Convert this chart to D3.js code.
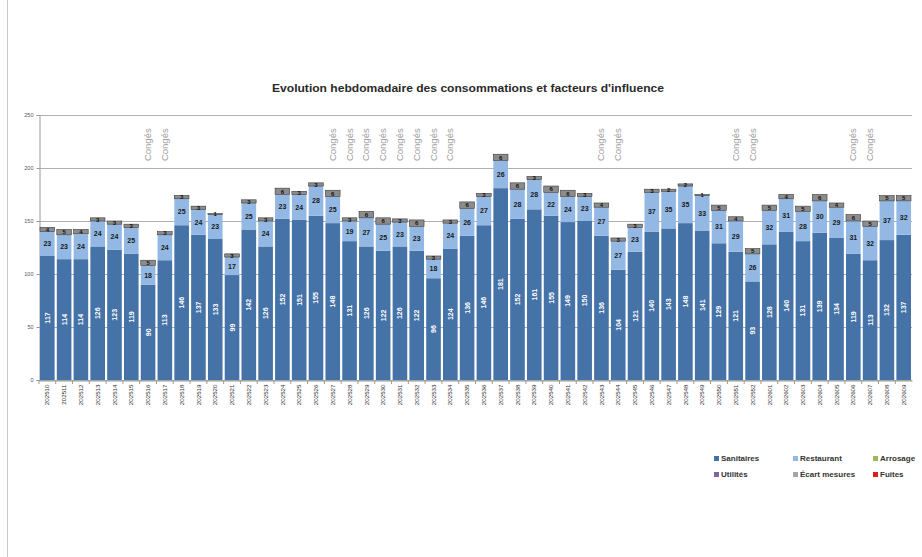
<!DOCTYPE html>
<html>
<head>
<meta charset="utf-8">
<script src="https://cdn.jsdelivr.net/npm/d3@7/dist/d3.min.js"></script>
<style>
  html, body { margin: 0; padding: 0; background: #fff; }
  svg { display: block; }
</style>
</head>
<body>
<svg id="chart" width="922" height="557"></svg>
<script>
// Weeks (year + ISO week)
const weeks = [
  "202510","202511","202512","202513","202514","202515","202516","202517","202518","202519",
  "202520","202521","202522","202523","202524","202525","202526","202527","202528","202529",
  "202530","202531","202532","202533","202534","202535","202536","202537","202538","202539",
  "202540","202541","202542","202543","202544","202545","202546","202547","202548","202549",
  "202550","202551","202552","202601","202602","202603","202604","202605","202606","202607",
  "202608","202609"
];

// Weekly consumption by usage
const sanitaires = [117,114,114,126,123,119,90,113,146,137,133,99,142,126,152,151,155,148,131,126,
  122,126,122,96,124,136,146,181,152,161,155,149,150,136,104,121,140,143,148,141,
  129,121,93,128,140,131,139,134,119,113,132,137];
const restaurant = [23,23,24,24,24,25,18,24,25,24,23,17,25,24,23,24,28,25,19,27,
  25,23,23,18,24,26,27,26,28,28,22,24,23,27,27,23,37,35,35,33,
  31,29,26,32,31,28,30,29,31,32,37,32];
const ecart = [4,5,4,3,3,3,5,3,3,3,1,3,3,3,6,3,3,6,3,6,
  6,3,6,3,3,6,3,6,6,3,6,6,3,4,3,3,3,2,2,1,
  5,4,5,5,4,5,6,4,6,5,5,5];

// Holiday weeks
const conges = ["202516","202517","202527","202528","202529","202530","202531","202532","202533","202534",
  "202543","202544","202551","202552","202606","202607"];

const yTicks = [0,50,100,150,200,250];

const legendItems = [
  {name: "Sanitaires", color: "#4572A7"},
  {name: "Restaurant", color: "#93B8E3"},
  {name: "Arrosage", color: "#9BBB59"},
  {name: "Utilités", color: "#8064A2"},
  {name: "Écart mesures", color: "#A5A5A5"},
  {name: "Fuites", color: "#E31A1C"}
];

const svg = d3.select("#chart");
const FONT = "'Liberation Sans Narrow','Liberation Sans',Arial,sans-serif";

// Frame line on the left
svg.append("line").attr("x1", 7.5).attr("x2", 7.5).attr("y1", 0).attr("y2", 557)
  .attr("stroke", "#c8c8c8").attr("stroke-width", 1);

const x = d3.scaleBand().domain(weeks).range([39, 912]).paddingInner(0.13).paddingOuter(0.06);
const y = d3.scaleLinear().domain([0, 250]).range([380, 115]);

// Title
svg.append("text")
  .attr("x", 468).attr("y", 92)
  .attr("text-anchor", "middle")
  .attr("font-family", FONT)
  .attr("font-size", 11.5)
  .attr("font-weight", "bold")
  .attr("fill", "#2a2a2a")
  .attr("textLength", 392).attr("lengthAdjust", "spacingAndGlyphs")
  .text("Evolution hebdomadaire des consommations et facteurs d'influence");

// Gridlines
svg.append("g").selectAll("line").data(yTicks).join("line")
  .attr("x1", 39).attr("x2", 912)
  .attr("y1", d => y(d) + 0.5).attr("y2", d => y(d) + 0.5)
  .attr("stroke", "#b0b0b0").attr("stroke-width", 1);

// Y axis
const yAxis = d3.axisLeft(y).tickValues(yTicks).tickSize(3).tickPadding(3);
const gy = svg.append("g").attr("transform", "translate(39.5,0)").call(yAxis);
gy.select(".domain").attr("stroke", "#999");
gy.selectAll(".tick line").attr("stroke", "#999");
gy.selectAll("text").attr("font-family", FONT).attr("font-size", 5.5).attr("fill", "#555");

// Stacked bars
const rows = weeks.map((w, i) => ({week: w, s: sanitaires[i], r: restaurant[i], e: ecart[i]}));
const stack = d3.stack().keys(["s", "r", "e"])(rows);
const fills = {s: "#4572A7", r: "#93B8E3", e: "#8C8C8C"};

const layers = svg.append("g").selectAll("g").data(stack).join("g")
  .attr("fill", d => fills[d.key]);

layers.selectAll("rect").data(d => d.map(v => Object.assign(v, {key: d.key}))).join("rect")
  .attr("x", d => x(d.data.week))
  .attr("width", x.bandwidth())
  .attr("y", d => y(d[1]))
  .attr("height", d => y(d[0]) - y(d[1]))
  .attr("stroke", d => d.key === "e" ? "#3a3a3a" : "none")
  .attr("stroke-width", d => d.key === "e" ? 0.6 : 0);

// X axis
const xAxis = d3.axisBottom(x).tickSize(0).tickPadding(4);
const gx = svg.append("g").attr("transform", "translate(0,380.5)").call(xAxis);
gx.select(".domain").attr("stroke", "#999");
gx.selectAll("text")
  .attr("font-family", FONT).attr("font-size", 6.2).attr("fill", "#333")
  .attr("transform", "rotate(-90)")
  .attr("text-anchor", "end")
  .attr("x", -4).attr("y", 0)
  .attr("dy", "0.35em");
// category separators
svg.append("g").selectAll("line").data(weeks).join("line")
  .attr("x1", d => x(d) - x.step() * x.paddingInner() / 2)
  .attr("x2", d => x(d) - x.step() * x.paddingInner() / 2)
  .attr("y1", 380.5).attr("y2", 384)
  .attr("stroke", "#999");

// Value labels: Sanitaires (rotated, white)
svg.append("g").selectAll("text").data(rows).join("text")
  .attr("transform", d => `translate(${x(d.week) + x.bandwidth() / 2 + 2.5},${y(d.s / 2)}) rotate(-90)`)
  .attr("text-anchor", "middle")
  .attr("font-family", FONT).attr("font-size", 7).attr("font-weight", "bold")
  .attr("fill", "#fff")
  .text(d => d.s);

// Restaurant labels
svg.append("g").selectAll("text").data(rows).join("text")
  .attr("x", d => x(d.week) + x.bandwidth() / 2)
  .attr("y", d => y(d.s + d.r / 2) + 2.5)
  .attr("text-anchor", "middle")
  .attr("font-family", FONT).attr("font-size", 7).attr("font-weight", "bold")
  .attr("fill", "#1a1a1a")
  .text(d => d.r);

// Écart labels
svg.append("g").selectAll("text").data(rows).join("text")
  .attr("x", d => x(d.week) + x.bandwidth() / 2)
  .attr("y", d => y(d.s + d.r + d.e / 2) + 2.2)
  .attr("text-anchor", "middle")
  .attr("font-family", FONT).attr("font-size", 6).attr("font-weight", "bold")
  .attr("fill", "#111")
  .text(d => d.e);

// Holiday markers
svg.append("g").selectAll("text").data(conges).join("text")
  .attr("transform", d => `translate(${x(d) + x.bandwidth() / 2 + 3},${y(222)}) rotate(-90)`)
  .attr("text-anchor", "middle")
  .attr("font-family", FONT).attr("font-size", 9.5)
  .attr("fill", "#a0a0a0")
  .text("Congés");

// Legend
const lg = svg.append("g").selectAll("g").data(legendItems).join("g")
  .attr("transform", (d, i) => `translate(${[714, 793, 873][i % 3]},${i < 3 ? 461 : 477})`);
lg.append("rect").attr("x", 0).attr("y", -5).attr("width", 5).attr("height", 5)
  .attr("fill", d => d.color);
lg.append("text").attr("x", 7).attr("y", 0)
  .attr("font-family", FONT).attr("font-size", 8).attr("font-weight", "bold")
  .attr("fill", "#333")
  .text(d => d.name);
</script>
</body>
</html>
